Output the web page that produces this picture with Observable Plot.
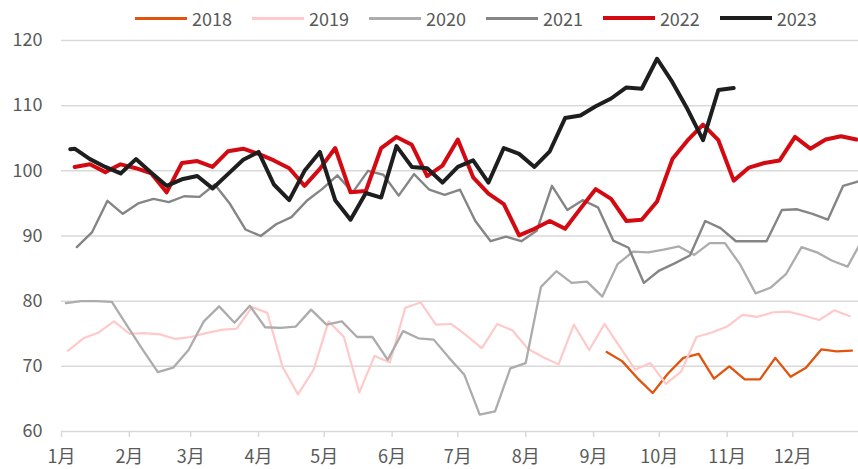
<!DOCTYPE html>
<html><head><meta charset="utf-8">
<script src="https://cdn.jsdelivr.net/npm/d3@7"></script>
<script src="https://cdn.jsdelivr.net/npm/@observablehq/plot@0.6"></script>
<style>
body{margin:0;background:#fff;font-family:"Noto Sans CJK SC","Noto Sans",sans-serif;}
#legend{height:22px;display:flex;align-items:center;padding-left:135px;box-sizing:border-box;color:#595959;font-size:18px;line-height:22px;overflow:visible;position:relative;z-index:1;}
.item{display:flex;align-items:center;margin-right:20px;transform:translateY(7px);}
.sw{width:52px;height:0;border-top-style:solid;margin-right:5px;}
#chart svg{overflow:visible;display:block;}
</style></head><body>
<div id="legend"></div><div id="chart"></div>
<script>
const years = ["2018","2019","2020","2021","2022","2023"];
const colors = ["#E0540E","#FFC9C9","#ACACAC","#858585","#D40A12","#1E1E1E"];
const widths = [2.3, 2.2, 2.3, 2.4, 4, 4];
// first weekly date of each series (weekly step afterwards); 2023 has an earlier lead point
const startDates = ["2018-09-07","2019-01-04","2020-01-03","2021-01-08","2022-01-07","2023-01-07"];
const leadDates = {"2023": "2023-01-05"};
const yTicks = [60,70,80,90,100,110,120];

const v2018 = [72.2,70.8,68.2,65.9,68.9,71.3,71.9,68.1,70.0,68.0,68.0,71.3,68.4,69.8,72.6,72.3,72.4];
const v2019 = [72.4,74.3,75.2,76.9,75.0,75.1,74.9,74.2,74.5,75.1,75.6,75.8,79.1,78.2,69.9,65.7,69.4,76.9,74.5,66.0,
  71.6,70.6,79.0,79.8,76.4,76.5,74.7,72.8,76.5,75.5,72.7,71.4,70.3,76.4,72.5,76.5,73.0,69.5,70.5,67.3,
  69.2,74.5,75.2,76.1,77.9,77.6,78.3,78.4,77.8,77.1,78.6,77.7];
const v2020 = [79.7,80.0,80.0,79.9,76.2,72.6,69.1,69.8,72.5,76.9,79.2,76.7,79.3,76.0,75.9,76.1,78.7,76.4,76.9,74.5,
  74.5,71.0,75.4,74.3,74.1,71.3,68.7,62.6,63.1,69.7,70.5,82.2,84.6,82.8,83.0,80.7,85.7,87.6,87.5,87.9,
  88.4,87.1,88.9,88.9,85.6,81.2,82.1,84.2,88.3,87.5,86.2,85.3,89.6];
const v2021 = [88.3,90.6,95.4,93.4,95.0,95.7,95.2,96.1,96.0,97.9,94.9,91.0,90.0,91.8,92.9,95.4,97.2,99.3,96.7,100.0,
  99.4,96.2,99.5,97.1,96.3,97.1,92.3,89.2,89.9,89.2,90.8,97.7,94.0,95.5,94.4,89.3,88.2,82.8,84.7,85.8,
  87.0,92.3,91.2,89.2,89.2,89.2,94.0,94.1,93.4,92.5,97.7,98.4];
const v2022 = [100.6,101.0,99.8,101.0,100.4,99.6,96.7,101.2,101.5,100.6,103.0,103.4,102.6,101.6,100.4,97.7,100.3,103.5,96.7,96.9,
  103.5,105.2,104.0,99.2,100.8,104.8,99.0,96.5,94.9,90.1,91.1,92.3,91.1,94.2,97.2,95.7,92.3,92.5,95.3,101.8,
  104.7,107.1,104.7,98.5,100.5,101.2,101.6,105.2,103.4,104.8,105.3,104.8];
const v2023 = [103.3,103.4,101.8,100.6,99.6,101.8,99.7,97.7,98.7,99.2,97.3,99.5,101.7,102.9,97.9,95.5,100.0,102.9,95.5,92.5,
  96.6,95.9,103.8,100.6,100.4,98.2,100.6,101.6,98.2,103.5,102.6,100.6,103.0,108.1,108.5,109.9,111.1,112.8,112.6,117.2,
  113.6,109.4,104.7,112.4,112.7];
const values = [v2018, v2019, v2020, v2021, v2022, v2023];

// map a date of any year onto the common reference year by day-of-year
function dayOfYear(s) {
  const [y, m, d] = s.split("-").map(Number);
  return Math.round((Date.UTC(y, m - 1, d) - Date.UTC(y, 0, 1)) / 864e5);
}
const refDate = doy => new Date(Date.UTC(2023, 0, 1 + doy));

const seriesData = years.map((yr, k) => {
  const vals = values[k];
  const out = [];
  let offset = 0;
  if (leadDates[yr]) { out.push({x: refDate(dayOfYear(leadDates[yr])), y: vals[0]}); offset = 1; }
  const s = dayOfYear(startDates[k]);
  for (let i = offset; i < vals.length; i++) out.push({x: refDate(s + 7 * (i - offset)), y: vals[i]});
  return out;
});

const xDomain = [new Date(Date.UTC(2023,0,1)), new Date(Date.UTC(2023,11,31))];
const monthTicks = d3.utcMonths(xDomain[0], xDomain[1]);
const grid = "#D9D9D9", txt = "#595959";

const chart = Plot.plot({
  width: 858, height: 447,
  marginTop: 18, marginBottom: 38, marginLeft: 61, marginRight: 0,
  style: {fontFamily: '"Noto Sans CJK SC","Noto Sans",sans-serif', fontSize: "18px", background: "white"},
  x: {type: "utc", domain: xDomain, label: null},
  y: {domain: [60, 120], label: null},
  marks: [
    Plot.ruleY(yTicks, {stroke: grid, strokeWidth: 1.5}),
    Plot.axisX(monthTicks, {tickSize: 6, tickPadding: 13, stroke: grid, strokeWidth: 1.5, fill: txt, fontSize: 18, label: null,
      tickFormat: d => `${d.getUTCMonth() + 1}月`}),
    Plot.axisY(yTicks, {tickSize: 0, tickPadding: 19, fill: txt, fontSize: 18, label: null}),
    ...seriesData.map((data, k) => Plot.line(data, {x: "x", y: "y", stroke: colors[k], strokeWidth: widths[k], clip: true}))
  ]
});
document.getElementById("chart").appendChild(chart);

const legend = document.getElementById("legend");
years.forEach((yr, k) => {
  const item = document.createElement("div");
  item.className = "item";
  const sw = document.createElement("span");
  sw.className = "sw";
  sw.style.borderTopColor = colors[k];
  sw.style.borderTopWidth = (k >= 4 ? 4 : 3) + "px";
  const t = document.createElement("span");
  t.textContent = yr;
  item.appendChild(sw); item.appendChild(t);
  legend.appendChild(item);
});
</script>
</body></html>
